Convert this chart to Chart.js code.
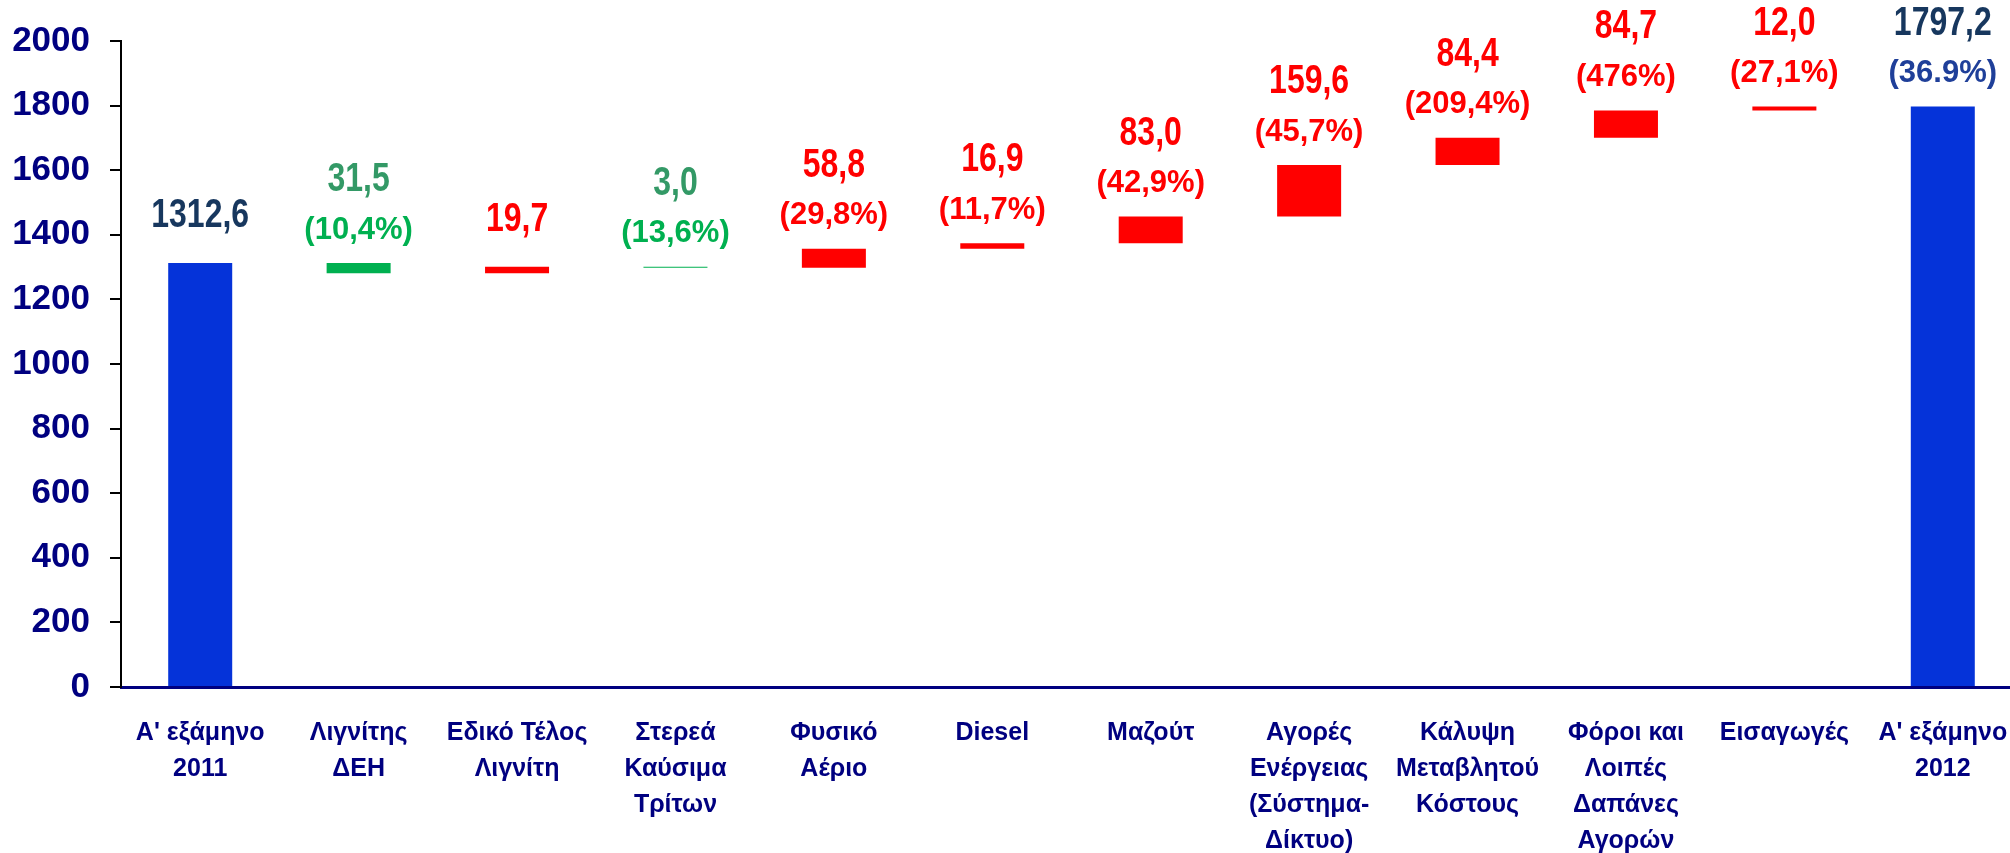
<!DOCTYPE html>
<html>
<head>
<meta charset="utf-8">
<script src="https://cdn.jsdelivr.net/npm/chart.js@4.4.1/dist/chart.umd.min.js"></script>
<style>
html,body{margin:0;padding:0;background:#fff;overflow:hidden;}
#wrap{width:2024px;height:853px;}
</style>
</head>
<body>
<div id="wrap"><canvas id="chart"></canvas></div>
<script>
// categories (multi-line tick labels)
const categories=[
  ["Α' εξάμηνο","2011"],["Λιγνίτης","ΔΕΗ"],["Εδικό Τέλος","Λιγνίτη"],["Στερεά","Καύσιμα","Τρίτων"],
  ["Φυσικό","Αέριο"],["Diesel"],["Μαζούτ"],["Αγορές","Ενέργειας","(Σύστημα-","Δίκτυο)"],
  ["Κάλυψη","Μεταβλητού","Κόστους"],["Φόροι και","Λοιπές","Δαπάνες","Αγορών"],["Εισαγωγές"],["Α' εξάμηνο","2012"]
];
// first and last are totals, the rest are changes
const values=[1312.6,-31.5,19.7,-3.0,58.8,16.9,83.0,159.6,84.4,84.7,12.0,1797.2];
const changeLabels=["","(10,4%)","","(13,6%)","(29,8%)","(11,7%)","(42,9%)","(45,7%)","(209,4%)","(476%)","(27,1%)","(36.9%)"];
const yMin=0, yMax=2000, yStep=200;

const last=values.length-1;
const kind=values.map((v,i)=>(i===0||i===last)?"total":(v<0?"down":"up"));
let run=0;
const ranges=values.map((v,i)=>{
  if(kind[i]==="total"){ run=v; return [0,v]; }
  const lo=run; run+=v;
  return [Math.min(lo,run),Math.max(lo,run)];
});

const barColor={total:"#0533d9",down:"#00b050",up:"#ff0000"};
const valueColor={total:"#17375e",down:"#339966",up:"#ff0000"};
const pctColor={total:"#1f3f99",down:"#00b050",up:"#ff0000"};
const sans='"Liberation Sans",Arial,sans-serif';

function fmt(v){ return Math.abs(v).toFixed(1).replace(".",","); }

// narrow text: squeeze Liberation Sans Bold horizontally (no Arial Narrow here)
function narrowText(ctx,txt,x,y){
  ctx.save();
  ctx.translate(x,y); ctx.scale(0.8,1);
  ctx.fillText(txt,0,0);
  ctx.restore();
}

const barLabels={
  id:"barLabels",
  afterDatasetsDraw(chart){
    const ctx=chart.ctx;
    chart.getDatasetMeta(0).data.forEach((bar,i)=>{
      const top=Math.min(bar.y,bar.base);
      const k=kind[i], pct=changeLabels[i];
      ctx.save();
      ctx.textAlign="center"; ctx.textBaseline="middle";
      ctx.font="bold 40px "+sans;
      ctx.fillStyle=valueColor[k];
      if(pct){
        narrowText(ctx,fmt(values[i]),bar.x,top-83);
        ctx.font="bold 31px "+sans;
        ctx.fillStyle=pctColor[k];
        ctx.fillText(pct,bar.x,top-33);
      }else{
        narrowText(ctx,fmt(values[i]),bar.x,top-47);
      }
      ctx.restore();
    });
  }
};

new Chart(document.getElementById("chart"),{
  type:"bar",
  data:{labels:categories,datasets:[{
    data:ranges,
    backgroundColor:kind.map(k=>barColor[k]),
    barPercentage:0.404,categoryPercentage:1,borderSkipped:false
  }]},
  options:{
    responsive:true,maintainAspectRatio:false,animation:false,
    layout:{padding:{top:33,right:2,left:0,bottom:0}},
    plugins:{legend:{display:false},tooltip:{enabled:false}},
    scales:{
      x:{
        grid:{display:false,drawTicks:false},
        border:{color:"#000080",width:3},
        ticks:{color:"#000080",font:{family:sans,size:25,weight:"bold",lineHeight:1.44},padding:28,maxRotation:0,autoSkip:false},
        afterFit(s){ s.height=166; s.paddingLeft=0; s.paddingRight=0; }
      },
      y:{
        min:yMin,max:yMax,
        grid:{drawOnChartArea:false,drawTicks:true,tickLength:11,color:"#000",lineWidth:2},
        border:{color:"#000",width:2},
        ticks:{stepSize:yStep,color:"#000080",font:{family:sans,size:35,weight:"bold"},padding:20,callback:v=>String(v)},
        afterFit(s){ s.width=121; }
      }
    }
  },
  plugins:[barLabels]
});
</script>
</body>
</html>
